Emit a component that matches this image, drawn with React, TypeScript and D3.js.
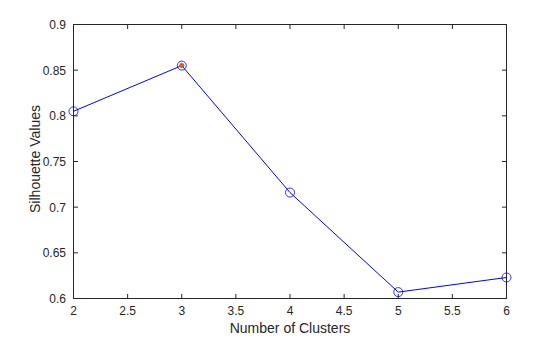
import React from "react";
import * as d3 from "d3";

const clusters = [2, 3, 4, 5, 6];
const silhouette = [0.805, 0.855, 0.716, 0.607, 0.623];
const xTicks = [2, 2.5, 3, 3.5, 4, 4.5, 5, 5.5, 6];
const yTicks = [0.6, 0.65, 0.7, 0.75, 0.8, 0.85, 0.9];
const bestIndex = 1;

const W = 560, H = 337;
const L = 73.5, R = 506.5, T = 24.5, B = 298.5;
const axisColor = "#262626";
const font = "'Liberation Sans', Arial, sans-serif";

export default function App() {
  const x = d3.scaleLinear().domain([2, 6]).range([L, R]);
  const y = d3.scaleLinear().domain([0.6, 0.9]).range([B, T]);
  const line = d3.line<number>().x((_, i) => x(clusters[i])).y((d) => y(d));
  const tl = 4.5;
  return (
    <svg width={W} height={H} style={{ position: "absolute", left: 0, top: 0, background: "#fff" }}>
      <rect x={0} y={0} width={W} height={H} fill="#fff" />
      <g stroke={axisColor} strokeWidth={1} fill="none">
        <rect x={L} y={T} width={R - L} height={B - T} />
        {xTicks.map((t) => (
          <g key={"x" + t}>
            <line x1={x(t)} x2={x(t)} y1={B} y2={B - tl} />
            <line x1={x(t)} x2={x(t)} y1={T} y2={T + tl} />
          </g>
        ))}
        {yTicks.map((t) => (
          <g key={"y" + t}>
            <line x1={L} x2={L + tl} y1={y(t)} y2={y(t)} />
            <line x1={R} x2={R - tl} y1={y(t)} y2={y(t)} />
          </g>
        ))}
      </g>
      <g fill={axisColor} fontFamily={font} fontSize={12}>
        {xTicks.map((t) => (
          <text key={"xl" + t} x={x(t)} y={B + 16.5} textAnchor="middle">{String(t)}</text>
        ))}
        {yTicks.map((t) => (
          <text key={"yl" + t} x={L - 7.5} y={y(t) + 4.5} textAnchor="end">{String(t)}</text>
        ))}
        <text x={(L + R) / 2} y={333} textAnchor="middle" fontSize={14}>Number of Clusters</text>
        <text transform={`translate(40,159) rotate(-90)`} textAnchor="middle" fontSize={14}>Silhouette Values</text>
      </g>
      <path d={line(silhouette) || ""} fill="none" stroke="#0000ff" strokeWidth={1} />
      {silhouette.map((v, i) => (
        <circle key={"c" + i} cx={x(clusters[i])} cy={y(v)} r={4.5} fill="none" stroke="#0000ff" strokeWidth={0.8} />
      ))}
      <circle cx={x(clusters[bestIndex])} cy={y(silhouette[bestIndex])} r={2.5} fill="#e05a10" />
    </svg>
  );
}
